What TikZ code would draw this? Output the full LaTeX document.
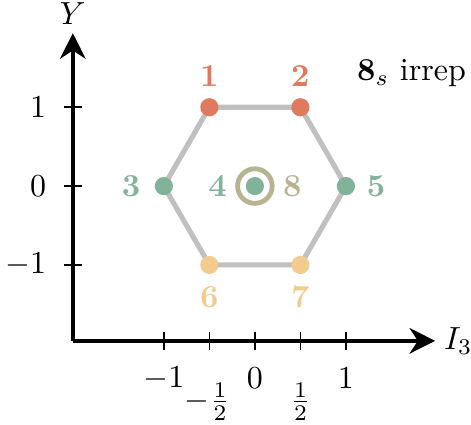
\documentclass[tikz,border=0pt]{standalone}
\usetikzlibrary{arrows.meta}
\definecolor{cred}{HTML}{E07A5F}
\definecolor{cgreen}{HTML}{81B29A}
\definecolor{cyellow}{HTML}{F2CC8F}
\definecolor{ckhaki}{HTML}{B8B392}
\definecolor{cgray}{RGB}{192,192,192}
\begin{document}
\begin{tikzpicture}[
  axis/.style={line width=1.1pt,-{Stealth[length=8pt,width=8pt,inset=2.6pt]}},
  tick/.style={line width=0.5pt},
  hexline/.style={cgray,line width=1.6pt},
  dot/.style={circle,fill=#1,inner sep=0pt,minimum size=0.2cm},
  wlab/.style={text=#1,font=\bfseries,inner sep=0pt},
  tlab/.style={inner sep=0pt}
]
\useasboundingbox (-2.80,-2.615) rectangle (2.374,2.044);
% axes
\coordinate (O) at (-2,-1.70);
\coordinate (xend) at (1.98,-1.70);
\coordinate (yend) at (-2,1.68);
\draw[axis] (O) -- (xend);
\draw[axis] (O) -- (yend);
\node[anchor=west,inner sep=2pt] (xl) at (2.0,-1.70) {$I_3$};
\node (yl) at (-2,1.89) {$Y$};
% x ticks
\foreach \x in {-1,-0.5,0,0.5,1}{
  \draw[tick] (\x,-1.60) -- (\x,-1.80);
}
\node[tlab] (tm1) at (-1,-2.11) {$-1$};
\node[tlab] (tz) at (0,-2.11) {$0$};
\node[tlab] (tp1) at (1,-2.11) {$1$};
\node[tlab] (tmh) at (-0.52,-2.37) {$-\frac{1}{2}$};
\node[tlab] (th) at (0.5,-2.37) {$\frac{1}{2}$};
% y ticks
\foreach \y in {0.866,0,-0.866}{
  \draw[tick] (-2.1,\y) -- (-1.9,\y);
}
\node[anchor=east] (y1) at (-2.17,0.866) {$1$};
\node[anchor=east] (y0) at (-2.17,0) {$0$};
\node[anchor=east] (ym1) at (-2.17,-0.866) {$-1$};
% hexagon
\coordinate (v1) at (-0.5,0.866);
\coordinate (v2) at (0.5,0.866);
\coordinate (v5) at (1,0);
\coordinate (v7) at (0.5,-0.866);
\coordinate (v6) at (-0.5,-0.866);
\coordinate (v3) at (-1,0);
\draw[hexline] (v1) -- (v2) -- (v5) -- (v7) -- (v6) -- (v3) -- cycle;
% ring
\draw[ckhaki,line width=1.5pt] (0,0) circle (0.19);
% dots
\node[dot=cred] (d1) at (v1) {};
\node[dot=cred] (d2) at (v2) {};
\node[dot=cgreen] (d3) at (v3) {};
\node[dot=cgreen] (d4) at (0,0) {};
\node[dot=cgreen] (d5) at (v5) {};
\node[dot=cyellow] (d6) at (v6) {};
\node[dot=cyellow] (d7) at (v7) {};
% labels
\node[wlab=cred] (l1) at (-0.5,1.21) {1};
\node[wlab=cred] (l2) at (0.5,1.21) {2};
\node[wlab=cgreen] (l3) at (-1.36,0) {3};
\node[wlab=cgreen] (l4) at (-0.41,0) {4};
\node[wlab=ckhaki] (l8) at (0.41,0) {8};
\node[wlab=cgreen] (l5) at (1.33,0) {5};
\node[wlab=cyellow] (l6) at (-0.5,-1.22) {6};
\node[wlab=cyellow] (l7) at (0.5,-1.22) {7};
\node (irr) at (1.72,1.24) {$\mathbf{8}_s$ irrep};
\end{tikzpicture}
\end{document}
